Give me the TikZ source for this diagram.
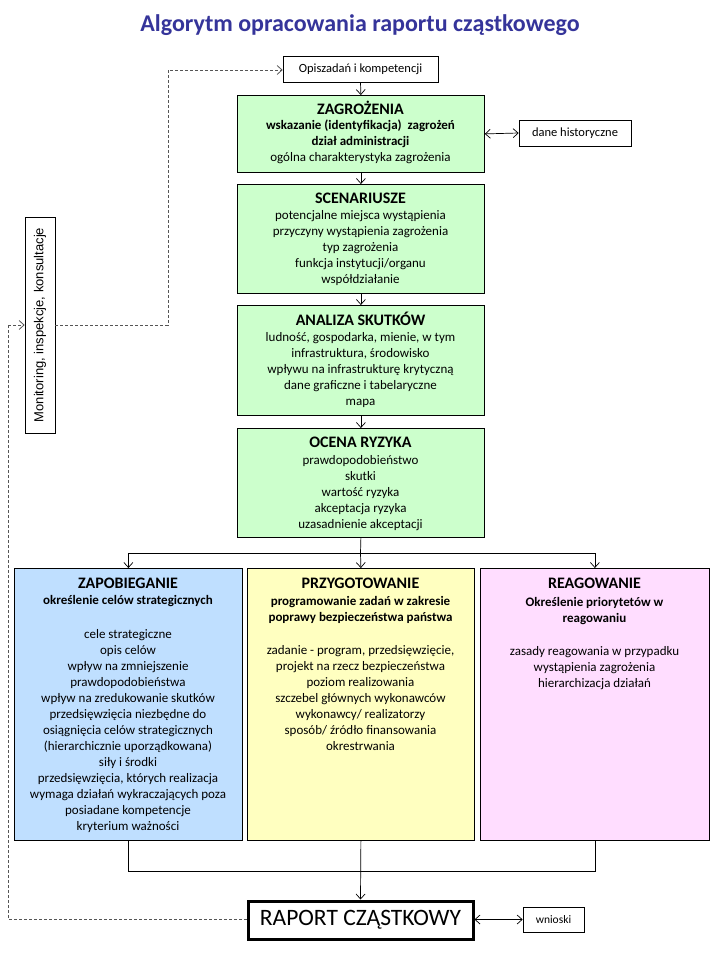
\documentclass[tikz,border=0pt]{standalone}
\usepackage{fontspec}
\setmainfont{Carlito}
\newfontfamily\arialfont{Liberation Sans}
\usetikzlibrary{arrows.meta}
\definecolor{titleblue}{HTML}{35349A}
\definecolor{gfill}{HTML}{CCFFCC}
\definecolor{bfill}{HTML}{BFDFFF}
\definecolor{yfill}{HTML}{FFFFC0}
\definecolor{pfill}{HTML}{FFDDFF}
\definecolor{dashgray}{HTML}{555555}
\tikzset{
  boxbase/.style={draw=black, line width=0.8pt, inner sep=0pt, anchor=north west},
  gbox/.style={boxbase, fill=gfill, minimum width=247pt},
  colbox/.style={boxbase, minimum width=228pt, minimum height=272pt},
  smallbox/.style={draw=black, line width=0.7pt, inner sep=0pt, font=\fontsize{12.5}{14}\selectfont},
  ttl/.style={inner sep=0pt, font=\fontsize{16}{19}\selectfont\bfseries},
  body/.style={inner sep=0pt, anchor=north, align=center, font=\fontsize{13}{16}\selectfont},
  arr/.style={-{Straight Barb[length=5pt,width=9pt]}, line width=0.7pt},
  darr/.style={{Straight Barb[length=5pt,width=9pt]}-{Straight Barb[length=5pt,width=9pt]}, line width=0.7pt},
  plain/.style={line width=0.7pt},
  dashln/.style={dashgray, line width=0.8pt, dash pattern=on 3pt off 2pt}
}
\begin{document}
\begin{tikzpicture}[x=1pt,y=-1pt]
\useasboundingbox (0,0) rectangle (720,960);
\fill[white] (0,0) rectangle (720,960);

% title
\node[inner sep=0pt, text=titleblue, font=\fontsize{24}{28}\selectfont\bfseries] (title) at (360,25) {Algorytm opracowania raportu cząstkowego};

% top small box
\node[smallbox, minimum width=155pt, minimum height=26pt] (opis) at (360.5,69) {Opiszadań i kompetencji};

% green boxes
\node[gbox, minimum height=77pt] (zag) at (237,95) {};
\node[ttl] (zagT) at (360.5,108) {ZAGROŻENIA};
\node[body] (zagB) at (360.5,120) {\textbf{wskazanie (identyfikacja)\ \ zagrożeń}\\\textbf{dział administracji}\\ogólna charakterystyka zagrożenia};

\node[gbox, minimum height=109pt] (scen) at (237,184) {};
\node[ttl] (scenT) at (360.5,198) {SCENARIUSZE};
\node[body] (scenB) at (360.5,210) {potencjalne miejsca wystąpienia\\przyczyny wystąpienia zagrożenia\\typ zagrożenia\\funkcja instytucji/organu\\współdziałanie};

\node[gbox, minimum height=110pt] (anal) at (237,305) {};
\node[ttl] (analT) at (360.5,319) {ANALIZA SKUTKÓW};
\node[body] (analB) at (360.5,332) {ludność, gospodarka, mienie,\ w tym\\infrastruktura, środowisko\\wpływu na infrastrukturę krytyczną\\dane graficzne i tabelaryczne\\mapa};

\node[gbox, minimum height=109pt] (ocena) at (237,428) {};
\node[ttl] (ocenaT) at (360.5,442) {OCENA RYZYKA};
\node[body] (ocenaB) at (360.5,455) {prawdopodobieństwo\\skutki\\wartość ryzyka\\akceptacja ryzyka\\uzasadnienie akceptacji};

\node[smallbox, minimum width=112pt, minimum height=26pt] (dane) at (575,133) {dane historyczne};

% three columns
\node[colbox, fill=bfill] (zap) at (14,568) {};
\node[ttl] (zapT) at (128,583) {ZAPOBIEGANIE};
\node[body] (zapB) at (128,595) {\textbf{określenie celów\ strategicznych}\\[18pt]cele strategiczne\\opis celów\\wpływ na zmniejszenie\\prawdopodobieństwa\\wpływ na zredukowanie skutków\\przedsięwzięcia niezbędne do\\osiągnięcia celów strategicznych\\(hierarchicznie uporządkowana)\\siły i środki\\przedsięwzięcia, których realizacja\\wymaga działań\ wykraczających\ poza\\posiadane kompetencje\\kryterium ważności};

\node[colbox, minimum width=227pt, fill=yfill] (przyg) at (247,568) {};
\node[ttl] (przygT) at (360.5,583) {PRZYGOTOWANIE};
\node[body] (przygB) at (360.5,596) {\textbf{programowanie zadań\ w zakresie}\\\textbf{poprawy bezpieczeństwa państwa}\\[17pt]zadanie - program, przedsięwzięcie,\\projekt na rzecz bezpieczeństwa\\poziom realizowania\\szczebel głównych\ wykonawców\\wykonawcy/ realizatorzy\\sposób/ źródło finansowania\\okrestrwania};

\node[colbox, minimum width=229pt, fill=pfill] (reag) at (480,568) {};
\node[ttl] (reagT) at (594.5,583) {REAGOWANIE};
\node[body] (reagB) at (594.5,597) {\textbf{Określenie priorytetów w}\\\textbf{reagowaniu}\\[17pt]zasady reagowania w\ przypadku\\wystąpienia zagrożenia\\hierarchizacja działań};

% report
\node[draw=black, line width=3pt, minimum width=225pt, minimum height=38pt, inner sep=0pt, font=\fontsize{23.5}{26}\selectfont] (raport) at (360.5,920) {RAPORT CZĄSTKOWY};
\node[smallbox, minimum width=61pt, minimum height=25pt, font=\fontsize{11.5}{13}\selectfont] (wnioski) at (553.5,919.5) {wnioski};

% monitoring
\node[draw=black, line width=0.7pt, minimum width=216pt, minimum height=30pt, inner sep=0pt, rotate=90, font=\arialfont\fontsize{13}{15}\selectfont] (monit) at (40,325) {Monitoring, inspekcje, konsultacje};

% connectors
\draw[arr] (opis.south) -- (zag.north);
\draw[arr] (zag.south) -- (scen.north);
\draw[arr] (scen.south) -- (anal.north);
\draw[arr] (anal.south) -- (ocena.north);
\draw[darr] (zag.east) -- (dane.west);

\coordinate (split) at (360.5,553);
\draw[plain] (ocena.south) -- (split);
\draw[arr] (split) -| (zap.north);
\draw[arr] (split) -- (przyg.north);
\draw[arr] (split) -| (reag.north);

\coordinate (join) at (360.5,871);
\draw[plain] (zap.south) |- (join);
\draw[plain] (reag.south) |- (join);
\draw[arr] (przyg.south) -- (raport.north);
\draw[darr] ([yshift=0.5pt]raport.east) -- (wnioski.west);

% dashed feedback
\coordinate (dl) at (8,919.5);
\coordinate (dlu) at (8,325);
\draw[dashln] (raport.west |- dl) -- (dl) -- (dlu);
\draw[dashln, -{Straight Barb[length=5pt,width=9pt]}] (dlu) -- (monit.north);
\coordinate (mr) at (168,325);
\coordinate (mt) at (168,70);
\draw[dashln, -{Straight Barb[length=5pt,width=9pt]}] (monit.south) -- (mr) -- (mt) -- (opis.west |- mt);
\end{tikzpicture}
\end{document}
